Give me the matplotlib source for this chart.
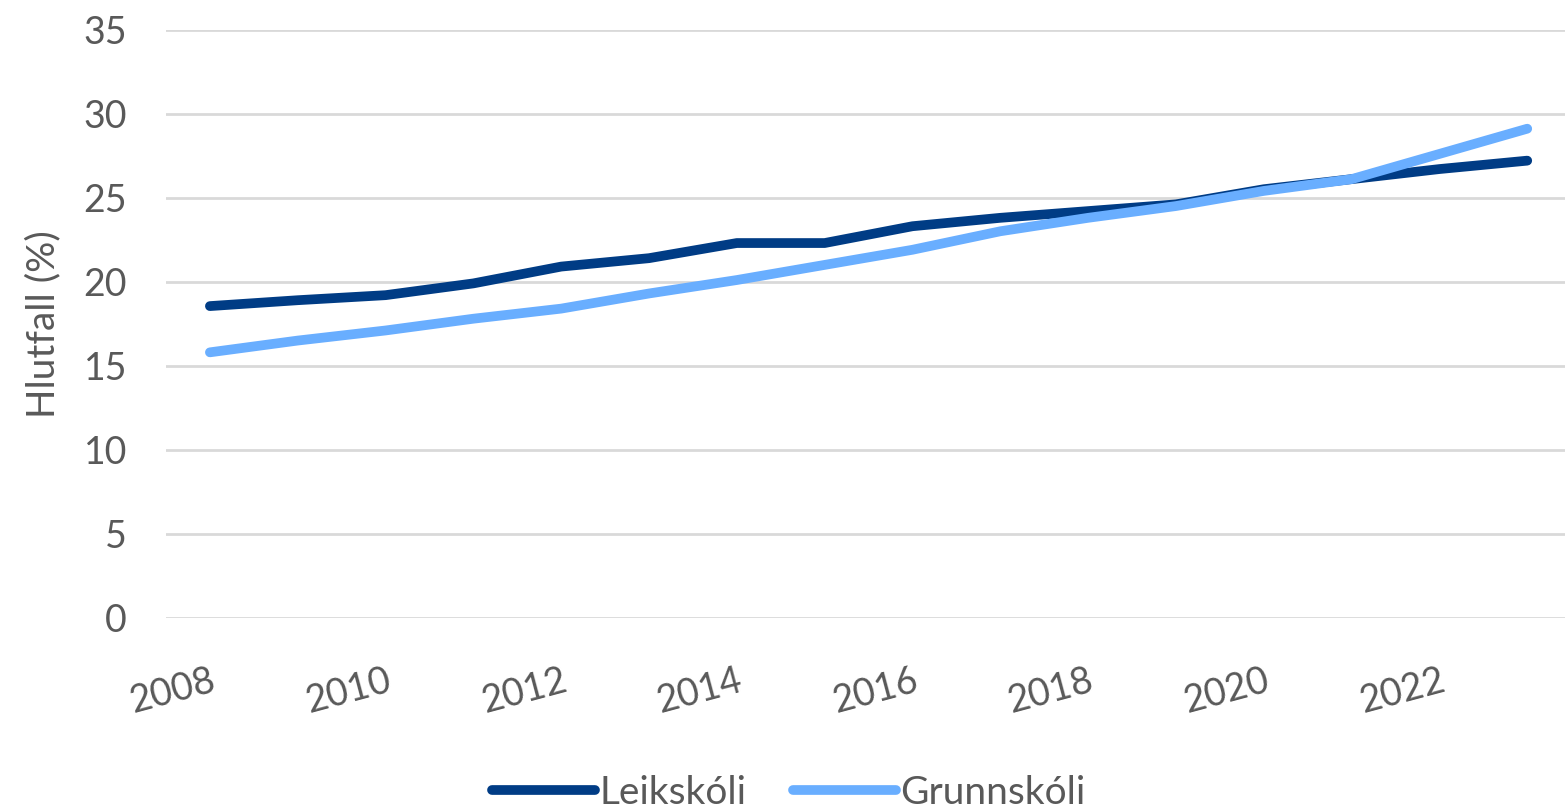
import matplotlib
matplotlib.use("Agg")
import matplotlib.pyplot as plt

# ******************** DATA ********************
years = list(range(2008, 2024))
leikskoli = [18.55, 18.9, 19.2, 19.9, 20.9, 21.4, 22.3, 22.3, 23.3, 23.8, 24.2,
             24.6, 25.5, 26.1, 26.7, 27.2]
grunnskoli = [15.8, 16.5, 17.1, 17.8, 18.4, 19.3, 20.1, 21.0, 21.9, 23.0, 23.8,
              24.5, 25.4, 26.1, 27.6, 29.1]
tick_years = [2008, 2010, 2012, 2014, 2016, 2018, 2020, 2022]
y_ticks = [0, 5, 10, 15, 20, 25, 30, 35]

dark = "#003C85"
light = "#69AEFF"
grey_text = "#595959"

plt.rcParams['font.family'] = ['Lato', 'DejaVu Sans']

# ******************** FIGURE ********************
fig = plt.figure(figsize=(15.65, 8.1), dpi=100)
ax = fig.add_axes([166 / 1565, 192 / 810, (1565 - 166) / 1565, 588.5 / 810])

ax.plot(years, leikskoli, color=dark, lw=7, solid_capstyle='round', label='Leikskóli')
ax.plot(years, grunnskoli, color=light, lw=7, solid_capstyle='round', label='Grunnskóli')

ax.set_xlim(2007.5, 2023.43)
ax.set_ylim(0, 35)
ax.set_yticks(y_ticks)
ax.set_xticks(tick_years)
ax.set_xticklabels([str(y) for y in tick_years], rotation=15, ha='right',
                   rotation_mode='anchor')
ax.grid(axis='y', color='#D9D9D9', lw=2)
ax.set_axisbelow(True)
for s in ax.spines.values():
    s.set_visible(False)
ax.tick_params(axis='both', length=0, labelsize=27, colors=grey_text)
ax.tick_params(axis='y', pad=28)
ax.tick_params(axis='x', pad=32)
ax.set_ylabel('Hlutfall (%)', fontsize=28, color=grey_text, labelpad=16)

ax.legend(loc='center', bbox_to_anchor=(0.445, -0.297),
          ncol=2, frameon=False, fontsize=28, handlelength=2.65, handletextpad=0.1,
          columnspacing=1.2, labelcolor=grey_text)

fig.savefig('out.png', dpi=100)
